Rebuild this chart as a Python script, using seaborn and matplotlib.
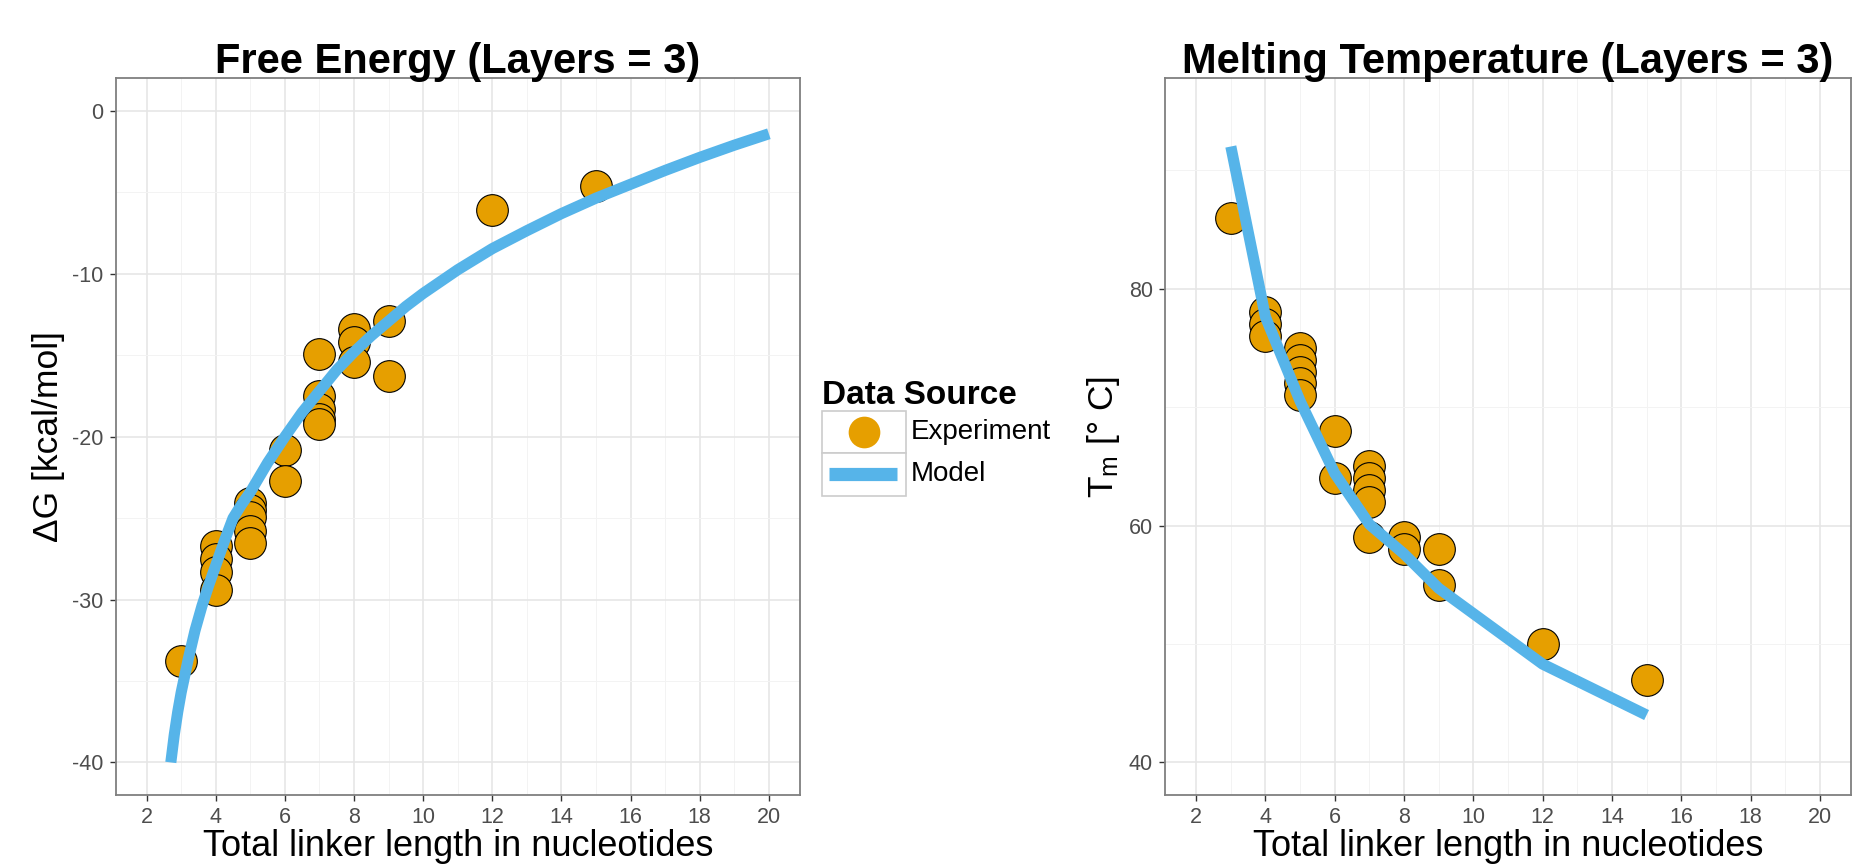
import matplotlib
matplotlib.use("Agg")
import matplotlib.pyplot as plt
from matplotlib.ticker import MultipleLocator
from matplotlib.patches import Rectangle
import seaborn as sns

# ------------------------------------------------------------
# Data
# ------------------------------------------------------------
exp_len_dg = [3, 4, 4, 4, 4, 5, 5, 5, 5, 5, 6, 6, 7, 7, 7, 7, 7,
              8, 8, 8, 9, 9, 12, 15]
exp_dg = [-33.8, -26.7, -27.5, -28.3, -29.4, -24.1, -24.5, -24.9, -25.8, -26.5,
          -20.8, -22.7, -14.9, -17.5, -18.3, -18.9, -19.2,
          -13.4, -14.2, -15.4, -12.9, -16.3, -6.1, -4.6]

model_len_dg = [2.7, 2.8, 2.9, 3.0, 3.2, 3.4, 3.6, 3.8, 4.0, 4.25, 4.5, 4.75,
                5.0, 5.5, 6.0, 6.5, 7.0, 7.5, 8.0, 8.5, 9.0, 9.5, 10,
                11, 12, 13, 14, 15, 16, 17, 18, 19, 20]
model_dg = [-40.0, -38.3, -36.9, -35.7, -33.7, -31.9, -30.4, -29.1, -27.9, -26.4,
            -25.0, -24.15, -23.4, -21.6, -20.0, -18.5, -17.2, -15.9, -14.8,
            -13.8, -12.9, -12.0, -11.2, -9.75, -8.45, -7.35, -6.3, -5.35,
            -4.5, -3.65, -2.85, -2.1, -1.4]

exp_len_tm = [3, 4, 4, 4, 5, 5, 5, 5, 5, 6, 6, 7, 7, 7, 7, 7,
              8, 8, 9, 9, 12, 15]
exp_tm = [86, 78, 77, 76, 75, 74, 73, 72, 71, 68, 64, 65, 64, 63, 62, 59,
          59, 58, 58, 55, 50, 47]

model_len_tm = [3, 4, 5, 6, 7, 8, 9, 12, 15]
model_tm = [92.0, 77.6, 70.5, 64.4, 60.1, 57.6, 54.7, 48.3, 44.0]

x_ticks = list(range(2, 21, 2))
dg_ticks = [0, -10, -20, -30, -40]
tm_ticks = [40, 60, 80]

ORANGE = "#E69F00"
BLUE = "#56B4E9"

# ------------------------------------------------------------
# Style
# ------------------------------------------------------------
sns.set_style("white")
plt.rcParams["font.family"] = ["Liberation Sans", "DejaVu Sans"]
plt.rcParams["mathtext.fontset"] = "custom"
plt.rcParams["mathtext.rm"] = "Liberation Sans"
plt.rcParams["mathtext.it"] = "Liberation Sans:italic"
plt.rcParams["axes.unicode_minus"] = False
plt.rcParams["text.color"] = "black"
plt.rcParams["axes.labelcolor"] = "black"
plt.rcParams["axes.titlecolor"] = "black"

W, H = 1876, 864
fig = plt.figure(figsize=(W / 100, H / 100), dpi=100)

ax1 = fig.add_axes([115.5 / W, 69 / H, 684.5 / W, 716.6 / H])
ax2 = fig.add_axes([1165 / W, 69 / H, 686 / W, 716.6 / H])


def style_axis(ax, yticks, ymin, ymax, yminor):
    ax.set_xlim(2 - 0.9, 20 + 0.9)
    pad = 0.05 * (ymax - ymin)
    ax.set_ylim(ymin - pad, ymax + pad)
    ax.set_xticks(x_ticks)
    ax.set_yticks(yticks)
    ax.xaxis.set_minor_locator(MultipleLocator(1))
    ax.yaxis.set_minor_locator(MultipleLocator(yminor))
    ax.grid(which="major", color="#E6E6E6", linewidth=1.2, zorder=0)
    ax.grid(which="minor", color="#F3F3F3", linewidth=0.7, zorder=0)
    ax.set_axisbelow(True)
    ax.tick_params(which="major", direction="out", length=4.3, width=1.0,
                   color="#333333", labelsize=15.5, labelcolor="#4D4D4D", pad=4.3,
                   bottom=True, left=True)
    ax.tick_params(which="minor", length=0)
    for sp in ax.spines.values():
        sp.set_color("#7F7F7F")
        sp.set_linewidth(1.3)
    ax.set_xlabel("Total linker length in nucleotides", fontsize=26, labelpad=0.5)


# ------------------------------------------------------------
# Panel 1: free energy
# ------------------------------------------------------------
sns.scatterplot(x=exp_len_dg, y=exp_dg, ax=ax1, color=ORANGE, s=520,
                edgecolor="black", linewidth=0.8, legend=False, zorder=3)
sns.lineplot(x=model_len_dg, y=model_dg, ax=ax1, color=BLUE, linewidth=8,
             sort=False, estimator=None, solid_capstyle="butt", zorder=4)
style_axis(ax1, dg_ticks, -40, 0, 5)
ax1.set_title("Free Energy (Layers = 3)", fontsize=30, fontweight="bold", pad=4)
ax1.set_ylabel("\u0394G [kcal/mol]", fontsize=25.5, labelpad=5)

# ------------------------------------------------------------
# Panel 2: melting temperature
# ------------------------------------------------------------
sns.scatterplot(x=exp_len_tm, y=exp_tm, ax=ax2, color=ORANGE, s=520,
                edgecolor="black", linewidth=0.8, legend=False, zorder=3)
sns.lineplot(x=model_len_tm, y=model_tm, ax=ax2, color=BLUE, linewidth=8,
             sort=False, estimator=None, solid_capstyle="butt", zorder=4)
style_axis(ax2, tm_ticks, 40, 95, 10)
ax2.set_title("Melting Temperature (Layers = 3)", fontsize=30, fontweight="bold", pad=4)
ax2.set_ylabel(r"T$_{\mathrm{m}}$ [° C]", fontsize=25.5, labelpad=5)

# ------------------------------------------------------------
# Legend (between the panels), laid out in pixel units
# ------------------------------------------------------------
lax = fig.add_axes([815 / W, (H - 500) / H, 260 / W, 130 / H])
lax.set_xlim(815, 1075)
lax.set_ylim(500, 370)
lax.axis("off")
lax.text(822, 404, "Data Source", fontsize=24, fontweight="bold", va="baseline")
for top in (410.7, 453):
    lax.add_patch(Rectangle((822, top), 84, 42.5, facecolor="white",
                            edgecolor="#CCCCCC", linewidth=1.2))
lax.scatter([864], [432], s=520, color=ORANGE, linewidth=0, zorder=3)
lax.plot([829, 897], [474, 474], color=BLUE, linewidth=9.5, solid_capstyle="butt")
lax.text(911, 432, "Experiment", fontsize=20, va="center")
lax.text(911, 474, "Model", fontsize=20, va="center")

fig.savefig("out.png", dpi=100)
